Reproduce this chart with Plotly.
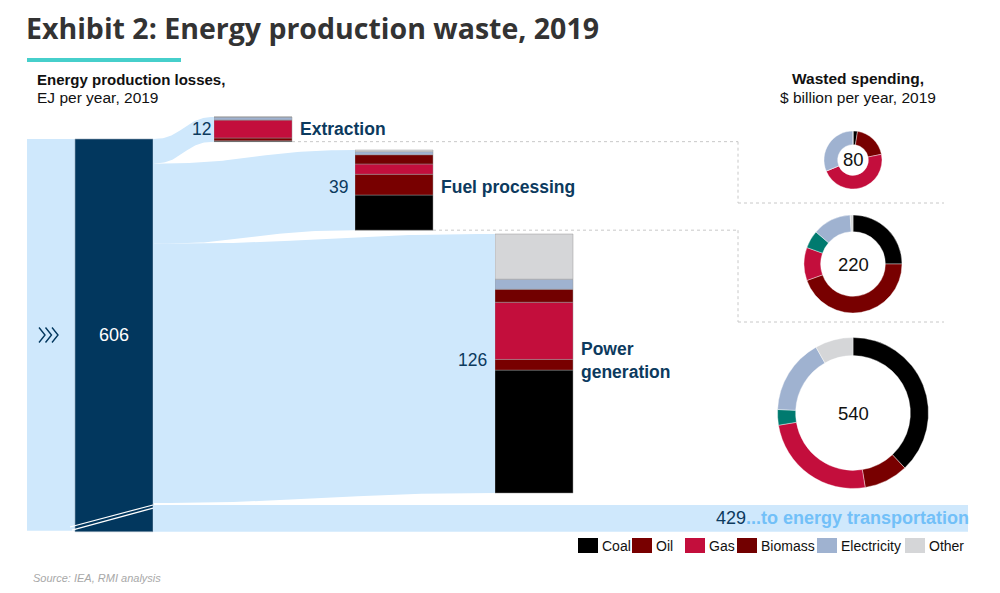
import numpy as np
import plotly.graph_objects as go

# ---------------- data ----------------
STAGES = ["Extraction", "Fuel processing", "Power generation"]
STAGE_LABELS = ["Extraction", "Fuel processing", "Power<br>generation"]
STAGE_LOSSES = [12, 39, 126]          # EJ per year
TOTAL_LOSSES = 606
TRANSPORT_LOSSES = 429

FUELS = ["Coal", "Oil", "Gas", "Biomass", "Electricity", "Other"]
EXTRACTION_MIX = [0.4, 1.4, 8.8, 0.0, 1.4, 0.0]
FUELPROC_MIX = [17.1, 10.1, 5.0, 4.5, 1.5, 0.8]
POWER_MIX = [59.8, 5.2, 27.8, 6.3, 4.9, 22.0]
STAGE_MIX = [EXTRACTION_MIX, FUELPROC_MIX, POWER_MIX]

SPEND_CATS = ["Coal", "Oil", "Gas", "Heat", "Electricity", "Other"]
SPEND_TOTALS = [80, 220, 540]          # $ billion per year
SPEND_EXTRACTION = [2, 15.5, 37.5, 0, 25, 0]
SPEND_FUELPROC = [55, 98, 24, 13, 28, 2]
SPEND_POWER = [205, 51, 135, 18, 87, 44]
SPEND_MIX = [SPEND_EXTRACTION, SPEND_FUELPROC, SPEND_POWER]

# ---------------- style / layout ----------------
OFF = 8                      # page margin of the html body
W, H = 1000 - OFF, 593 - OFF  # figure size
COLORS = {"Coal": "#000000", "Oil": "#780000", "Gas": "#c30e3c", "Biomass": "#720000",
          "Electricity": "#9fb2d0", "Other": "#d5d6d8", "Heat": "#007a6f"}
FLOW = "#cfe8fc"
NAVY = "#02375e"
LABEL = "#0c3a5e"
TRANS_TXT = "#72c0f8"
FONT = "Liberation Sans"

PX_PER_EJ = 2.056
Y0_PX = 139


def py(px):
    """convert a vertical page pixel position to y-axis units (EJ below top of main node)"""
    return (px - Y0_PX) / PX_PER_EJ


def paper_x(px):
    return (px - OFF) / W


def paper_y(px):
    return 1 - (px - OFF) / H


IN_X0 = 27
MAIN_X0, MAIN_X1 = 75, 153
STAGE_X0 = [214, 355, 495]
BAR_W = 78
STAGE_TOP = [py(117), py(150), py(234)]
TRANSPORT_END = 968
BREAK_GAP = 1.0
TRANSPORT_H = 13.0
DONUTS = [(853, 160, 29, 0.53), (853, 264, 49, 0.66), (853, 413, 75.5, 0.76)]


def band(x0, a0, b0, x1, a1, b1, n=60):
    t = np.linspace(0, 1, n)
    xm = (x0 + x1) / 2

    def bez(p0, p1, p2, p3):
        return (1 - t) ** 3 * p0 + 3 * (1 - t) ** 2 * t * p1 + 3 * (1 - t) * t ** 2 * p2 + t ** 3 * p3

    xs = bez(x0, xm, xm, x1)
    top = bez(a0, a0, a1, a1)
    bot = bez(b0, b0, b1, b1)
    return np.concatenate([xs, xs[::-1]]), np.concatenate([top, bot[::-1]])


fig = go.Figure()

upper_total = sum(STAGE_LOSSES)
t0 = upper_total + BREAK_GAP
main_h = t0 + TRANSPORT_H

# inflow band
fig.add_trace(go.Bar(x=[(IN_X0 + MAIN_X0) / 2], y=[main_h - 0.4], base=[0], width=[MAIN_X0 - IN_X0],
                     marker=dict(color=FLOW, line_width=0), showlegend=False, hoverinfo="skip"))

# flows
cum = 0
for i, v in enumerate(STAGE_LOSSES):
    xs, ys = band(MAIN_X1, cum, cum + v, STAGE_X0[i], STAGE_TOP[i], STAGE_TOP[i] + v)
    fig.add_trace(go.Scatter(x=xs, y=ys, fill="toself", fillcolor=FLOW, mode="lines",
                             line=dict(width=0, color=FLOW), showlegend=False, hoverinfo="skip"))
    cum += v
fig.add_trace(go.Scatter(x=[MAIN_X1, TRANSPORT_END, TRANSPORT_END, MAIN_X1],
                         y=[t0, t0, t0 + TRANSPORT_H, t0 + TRANSPORT_H], fill="toself",
                         fillcolor=FLOW, mode="lines", line=dict(width=0, color=FLOW),
                         showlegend=False, hoverinfo="skip"))

# main node
fig.add_trace(go.Bar(x=[(MAIN_X0 + MAIN_X1) / 2], y=[main_h], base=[0], width=[MAIN_X1 - MAIN_X0],
                     marker=dict(color=NAVY, line=dict(width=0.6, color="#9ab")),
                     showlegend=False, hoverinfo="skip"))

# stage stacked bars
centers = [x + BAR_W / 2 for x in STAGE_X0]
for fi, f in enumerate(FUELS):
    vals, bases = [], []
    for si in range(len(STAGES)):
        bottom = STAGE_TOP[si] + STAGE_LOSSES[si]
        below = sum(STAGE_MIX[si][:fi])
        vals.append(STAGE_MIX[si][fi])
        bases.append(bottom - below - STAGE_MIX[si][fi])
    fig.add_trace(go.Bar(x=centers, y=vals, base=bases, width=[BAR_W] * 3, name=f,
                         marker=dict(color=COLORS[f], line=dict(width=0.6, color="rgba(150,150,150,0.8)")),
                         showlegend=False, hoverinfo="skip"))

# break marks
for dy0, dy1, xa in [(10.7, 0.0, 70), (12.2, 1.5, 72)]:
    fig.add_trace(go.Scatter(x=[xa, MAIN_X1], y=[t0 + dy0, t0 + dy1], mode="lines",
                             line=dict(color="white", width=1.2), showlegend=False, hoverinfo="skip"))

# chevrons on the inflow band
for k in range(3):
    cxv = 39 + k * 6.5
    fig.add_trace(go.Scatter(x=[cxv, cxv + 6, cxv], y=[py(327.5), py(335), py(342.5)], mode="lines",
                             line=dict(color=NAVY, width=1.4), showlegend=False, hoverinfo="skip"))

# donuts
for k, (cx, cy, r, hole) in enumerate(DONUTS):
    fig.add_trace(go.Pie(values=SPEND_MIX[k], labels=SPEND_CATS, hole=hole, sort=False,
                         direction="clockwise", rotation=0, textinfo="none",
                         marker=dict(colors=[COLORS[c] for c in SPEND_CATS],
                                     line=dict(color="white", width=0.4)),
                         domain=dict(x=[paper_x(cx - r), paper_x(cx + r)], y=[paper_y(cy + r), paper_y(cy - r)]),
                         showlegend=False, hoverinfo="label+value"))

ann = []
shapes = []


def pan(x, ypx, text, size=14, color="#111", xanchor="left", family=FONT, borderpad=1):
    ann.append(dict(x=paper_x(x), y=paper_y(ypx), xref="paper", yref="paper", text=text, showarrow=False,
                    xanchor=xanchor, yanchor="middle", borderpad=borderpad,
                    font=dict(family=family, size=size, color=color)))


# title & headers
ann.append(dict(x=paper_x(25), y=1.0, xref="paper", yref="paper", showarrow=False, xanchor="left",
                yanchor="top", borderpad=0, text="<b>Exhibit 2: Energy production waste, 2019</b>",
                font=dict(family="Open Sans", size=28.5, color="#333333")))
shapes.append(dict(type="rect", xref="paper", yref="paper", x0=paper_x(27), x1=paper_x(181),
                   y0=paper_y(62), y1=paper_y(58), fillcolor="#46cfcb", line_width=0))
pan(35, 79, "<b>Energy production losses,</b>", 15)
pan(35, 97, "EJ per year, 2019", 15.5)
pan(858, 78, "<b>Wasted spending,</b>", 15.5, xanchor="center")
pan(858, 97, "$ billion per year, 2019", 15.5, xanchor="center")
pan(31, 578, "<i>Source: IEA, RMI analysis</i>", 11, color="#a8a8a8")

# node labels
ann.append(dict(x=(MAIN_X0 + MAIN_X1) / 2, y=main_h / 2, xref="x", yref="y", text=str(TOTAL_LOSSES),
                showarrow=False, font=dict(family=FONT, size=18, color="white")))
LABEL_GAP = [1, 5, 6]
for i, v in enumerate(STAGE_LOSSES):
    ymid = STAGE_TOP[i] + v / 2
    ann.append(dict(x=STAGE_X0[i] - LABEL_GAP[i], y=ymid - (1.5 if i else 0), xref="x", yref="y", text=str(v),
                    showarrow=False, xanchor="right", font=dict(family=FONT, size=17.5, color=LABEL)))
    ann.append(dict(x=STAGE_X0[i] + BAR_W + 6, y=ymid - (1.5 if i else 0), xref="x", yref="y",
                    text="<b>%s</b>" % STAGE_LABELS[i], showarrow=False, xanchor="left", align="left",
                    font=dict(family=FONT, size=17.5, color=LABEL)))
ann.append(dict(x=TRANSPORT_END + 3, y=t0 + TRANSPORT_H / 2, xref="x", yref="y", showarrow=False, xanchor="right",
                text="<span style='color:%s'>%d</span><b>...to energy transportation</b>" % (LABEL, TRANSPORT_LOSSES),
                font=dict(family=FONT, size=18, color=TRANS_TXT)))

# donut centre values
for k, (cx, cy, r, hole) in enumerate(DONUTS):
    pan(cx, cy, str(SPEND_TOTALS[k]), 18.5, color="#111", xanchor="center")

# dotted connectors
dot = dict(color="#c8c8c8", width=1, dash="dot")
ext_bottom = STAGE_TOP[0] + STAGE_LOSSES[0]
fp_bottom = STAGE_TOP[1] + STAGE_LOSSES[1]
for yb, xs0, ylow in [(ext_bottom, STAGE_X0[0] + BAR_W, py(203)), (fp_bottom, STAGE_X0[1] + BAR_W, py(322))]:
    shapes.append(dict(type="line", xref="x", yref="y", x0=xs0, x1=738, y0=yb, y1=yb, line=dot, layer="below"))
    shapes.append(dict(type="line", xref="x", yref="y", x0=738, x1=738, y0=yb, y1=ylow, line=dot, layer="below"))
    shapes.append(dict(type="line", xref="x", yref="y", x0=738, x1=944, y0=ylow, y1=ylow, line=dot, layer="below"))

# legend
LEG_X = [578, 632, 685, 737, 817, 905]
for f, lx in zip(FUELS, LEG_X):
    shapes.append(dict(type="rect", xref="paper", yref="paper", x0=paper_x(lx), x1=paper_x(lx + 20),
                       y0=paper_y(553), y1=paper_y(538), fillcolor=COLORS[f], line_width=0))
    pan(lx + 22, 546, f, 14, color="#111")

fig.update_layout(
    width=W, height=H, margin=dict(l=0, r=0, t=0, b=0),
    paper_bgcolor="white", plot_bgcolor="white", barmode="overlay",
    xaxis=dict(range=[OFF, OFF + W], visible=False, fixedrange=True, domain=[0, 1]),
    yaxis=dict(range=[py(OFF + H), py(OFF)], visible=False, fixedrange=True, domain=[0, 1]),
    annotations=ann, shapes=shapes, showlegend=False,
)

fig.write_html("out.html")
